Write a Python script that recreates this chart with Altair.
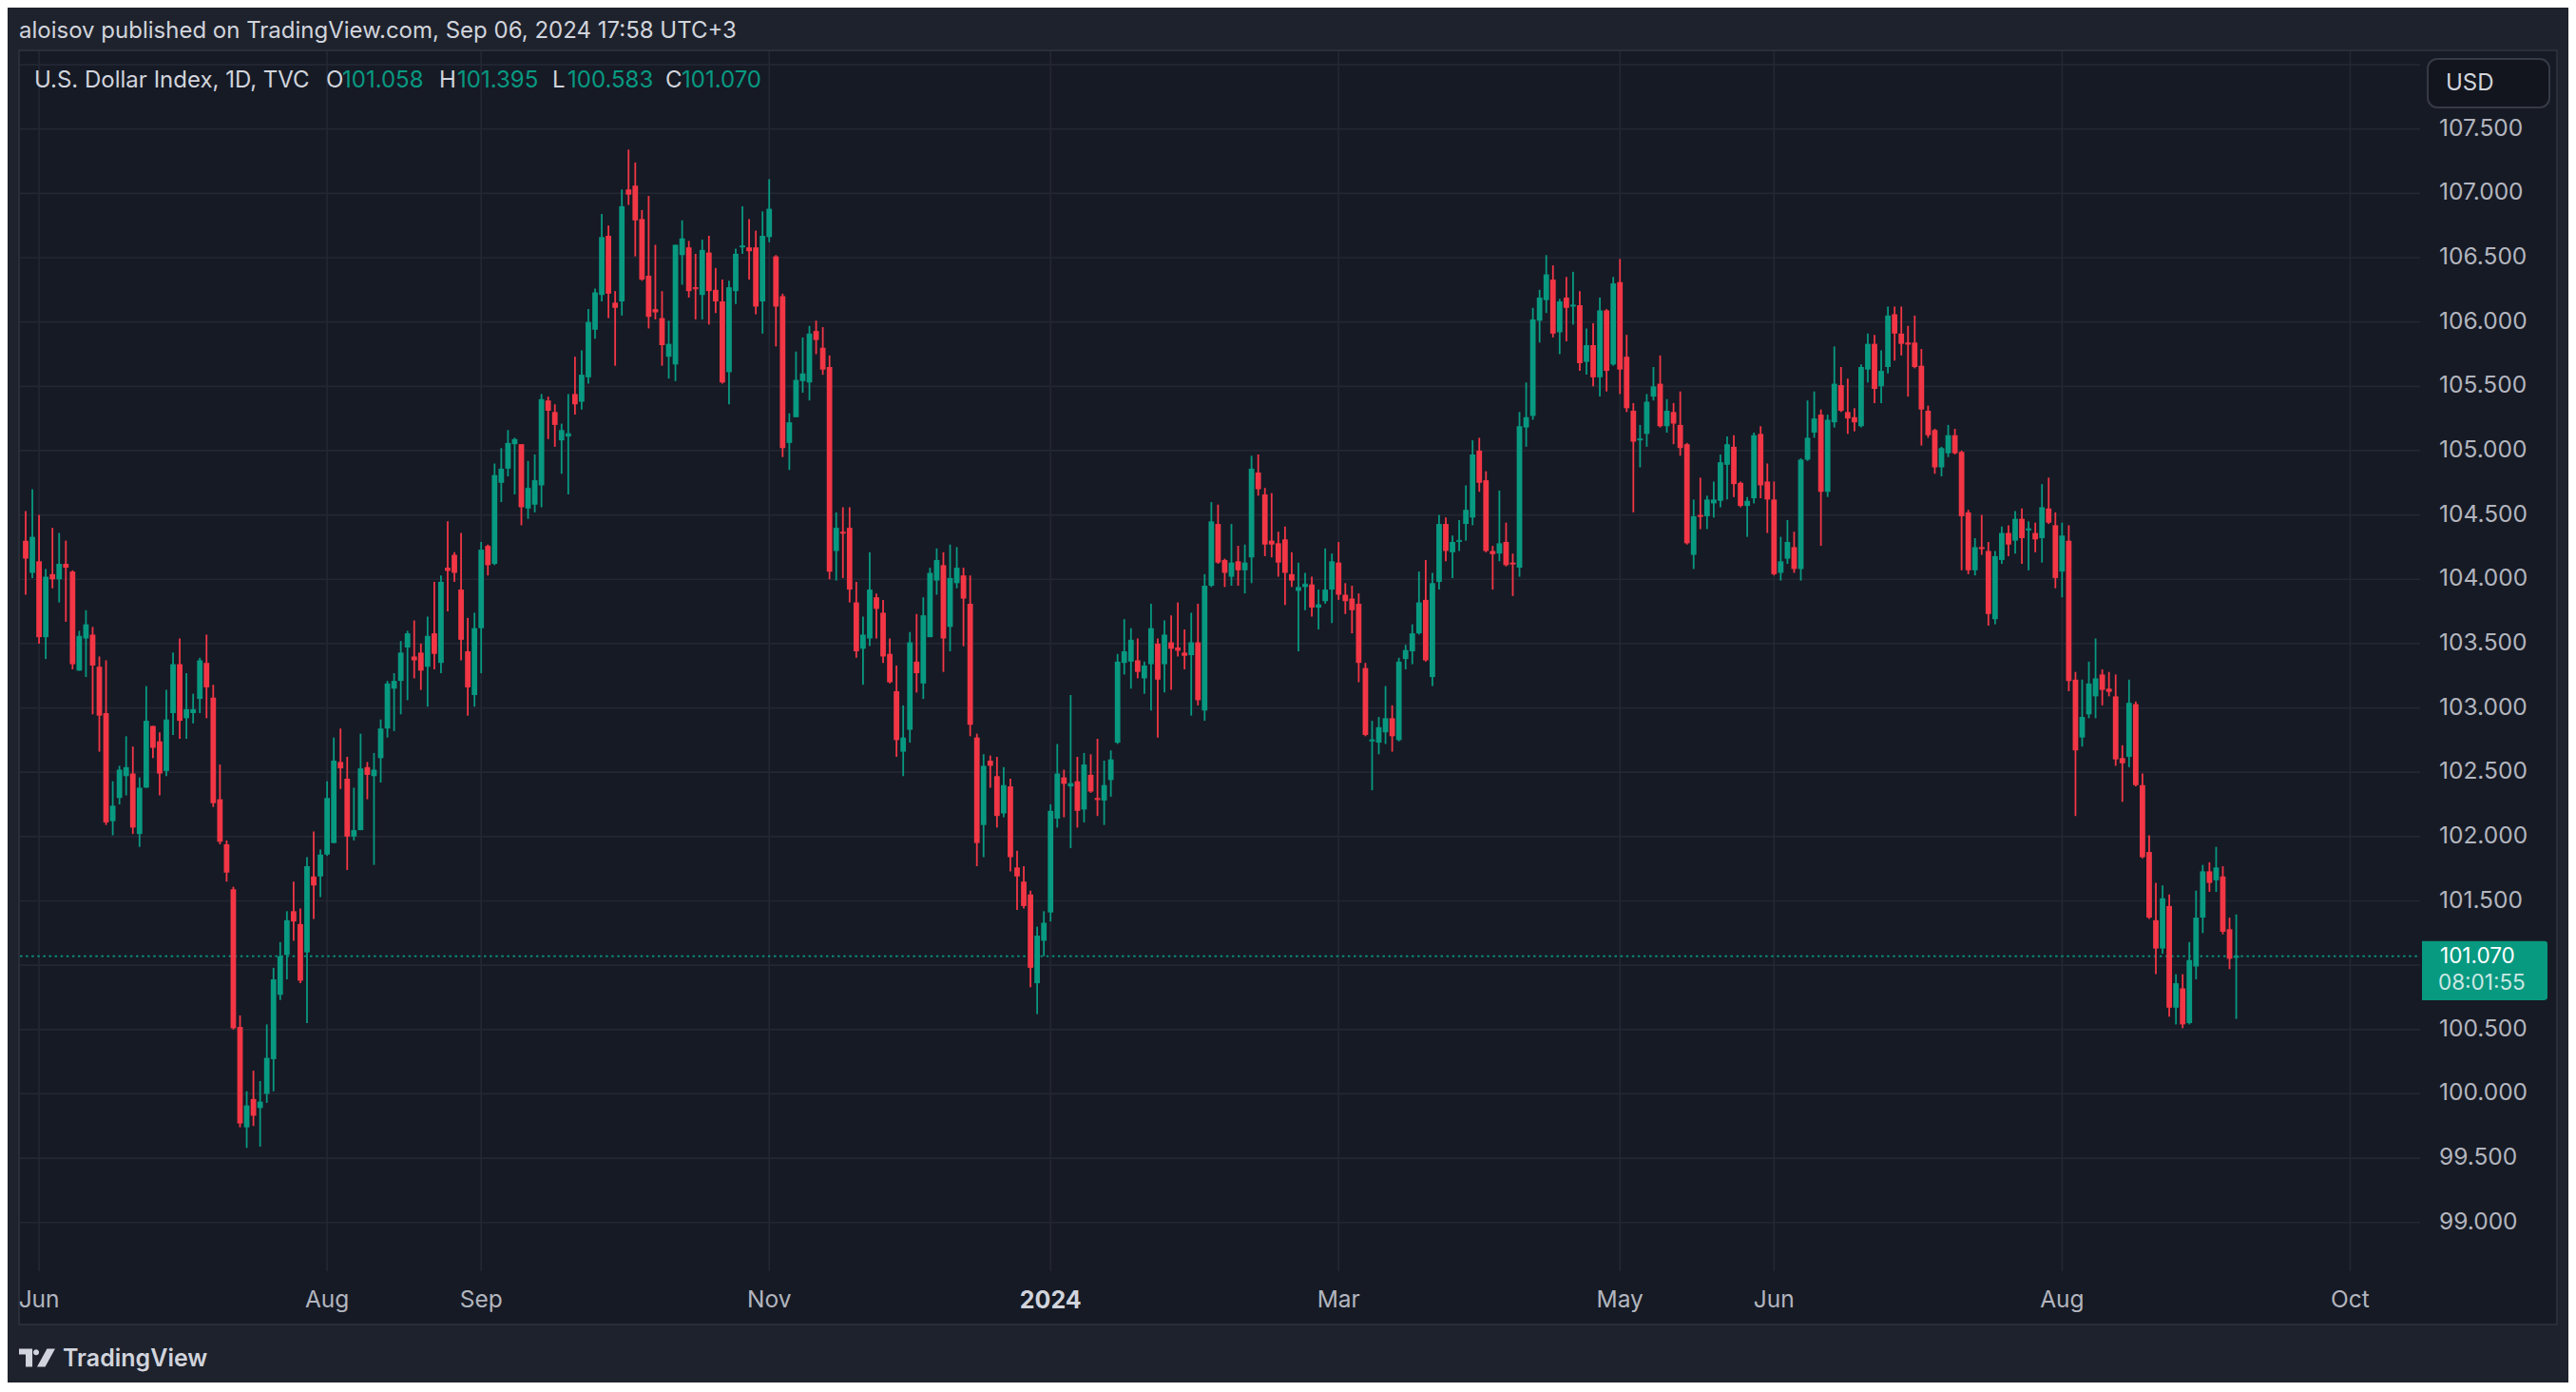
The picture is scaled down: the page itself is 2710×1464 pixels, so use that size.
import altair as alt
import pandas as pd
import numpy as np

# ---------------- data ----------------
opens = [
    104.30, 104.05, 104.14, 103.55, 104.04, 104.00, 104.12, 104.06, 103.29, 103.54,
    103.57, 103.32, 102.96, 102.12, 102.30, 102.47, 102.49, 102.02, 102.38, 102.86,
    102.74, 102.51, 102.96, 103.34, 102.92, 102.96, 103.07, 103.35, 103.08, 102.29,
    101.94, 101.59, 100.52, 99.74, 99.96, 99.89, 100.00, 100.27, 100.77, 101.08,
    101.42, 101.32, 101.10, 101.69, 101.69, 101.86, 101.95, 102.58, 102.45, 102.00,
    102.05, 102.54, 102.47, 102.61, 102.84, 103.15, 103.21, 103.47, 103.40, 103.43,
    103.32, 103.58, 103.35, 104.09, 104.19, 103.92, 103.44, 103.10, 103.62, 104.26,
    104.12, 104.75, 104.86, 105.05, 105.05, 104.55, 104.58, 104.73, 105.39, 105.30,
    105.08, 105.11, 105.44, 105.38, 105.57, 105.94, 106.21, 106.67, 106.15, 106.16,
    107.03, 107.06, 106.80, 106.36, 106.10, 106.03, 105.73, 105.67, 106.52, 106.58,
    106.27, 106.21, 106.54, 106.25, 106.16, 105.61, 106.24, 106.58, 106.58, 106.58,
    106.16, 106.66, 106.51, 106.20, 105.06, 105.26, 105.54, 105.53, 105.93, 105.80,
    105.65, 104.22, 104.37, 104.40, 103.82, 103.46, 103.54, 103.86, 103.74, 103.42,
    103.13, 102.66, 102.83, 103.36, 103.19, 103.55, 103.99, 104.11, 103.63, 103.97,
    104.03, 103.81, 102.77, 102.09, 102.59, 102.47, 102.18, 102.39, 101.76, 101.65,
    101.55, 100.86, 101.19, 101.41, 102.14, 102.46, 102.39, 102.43, 102.21, 102.48,
    102.30, 102.28, 102.44, 102.73, 103.35, 103.36, 103.37, 103.23, 103.34, 103.50,
    103.34, 103.51, 103.47, 103.43, 103.41, 103.51, 102.98, 103.95, 104.43, 104.15,
    104.02, 104.14, 104.07, 104.17, 104.83, 104.66, 104.30, 104.28, 104.31, 104.04,
    103.91, 103.94, 103.96, 103.78, 103.83, 103.92, 104.13, 103.88, 103.85, 103.81,
    103.31, 102.74, 102.73, 102.81, 102.92, 102.75, 103.38, 103.44, 103.58, 103.84,
    103.24, 103.98, 104.43, 104.21, 104.29, 104.43, 104.48, 105.00, 104.77, 104.22,
    104.20, 104.29, 104.13, 104.09, 105.18, 105.27, 106.01, 106.17, 106.33, 105.92,
    106.19, 106.12, 106.13, 105.69, 105.82, 105.57, 106.09, 105.67, 106.31, 105.73,
    105.31, 105.08, 105.13, 105.42, 105.52, 105.19, 105.30, 105.20, 105.05, 104.19,
    104.50, 104.49, 104.59, 104.61, 104.89, 105.03, 104.75, 104.57, 104.63, 105.13,
    104.76, 104.62, 104.05, 104.16, 104.25, 104.08, 104.93, 105.14, 105.28, 104.68,
    105.22, 105.51, 105.30, 105.26, 105.19, 105.63, 105.83, 105.50, 105.65, 106.06,
    105.91, 105.84, 105.84, 105.66, 105.31, 105.16, 104.87, 104.98, 105.12, 104.99,
    104.52, 104.07, 104.25, 104.22, 103.69, 104.15, 104.36, 104.30, 104.47, 104.38,
    104.36, 104.32, 104.55, 104.42, 104.06, 104.30, 103.22, 102.77, 102.95, 103.09,
    103.26, 103.15, 103.09, 102.61, 102.62, 103.03, 102.40, 101.88, 101.35, 101.13,
    101.46, 100.67, 100.82, 100.55, 100.99, 101.37, 101.73, 101.66, 101.69, 101.28,
    101.058,
]
highs = [
    104.53, 104.70, 104.50, 104.08, 104.40, 104.36, 104.30, 104.07, 103.60, 103.76,
    103.63, 103.40, 103.37, 102.43, 102.55, 102.78, 102.70, 102.46, 103.17, 102.86,
    102.81, 103.14, 103.43, 103.54, 103.27, 103.11, 103.39, 103.57, 103.18, 102.56,
    101.97, 101.61, 100.61, 100.02, 100.18, 100.10, 100.54, 100.98, 101.18, 101.42,
    101.65, 101.44, 101.84, 102.04, 101.90, 102.43, 102.77, 102.84, 102.62, 102.38,
    102.80, 102.58, 102.65, 102.91, 103.21, 103.27, 103.52, 103.60, 103.68, 103.50,
    103.71, 103.98, 104.03, 104.45, 104.21, 104.36, 103.70, 103.74, 104.29, 104.27,
    104.90, 105.02, 105.16, 105.10, 105.05, 104.92, 104.97, 105.44, 105.42, 105.36,
    105.21, 105.44, 105.73, 105.78, 106.10, 106.26, 106.84, 106.75, 106.24, 107.03,
    107.34, 107.24, 106.87, 106.98, 106.60, 106.24, 106.01, 106.60, 106.79, 106.63,
    106.53, 106.64, 106.67, 106.42, 106.33, 106.32, 106.57, 106.90, 106.80, 106.71,
    106.86, 107.11, 106.52, 106.22, 105.29, 105.77, 105.88, 105.97, 106.01, 105.96,
    105.74, 104.52, 104.56, 104.56, 103.98, 103.71, 104.21, 103.89, 103.84, 103.54,
    103.33, 103.02, 103.59, 103.73, 103.86, 104.09, 104.24, 104.21, 104.27, 104.25,
    104.09, 104.03, 102.80, 102.64, 102.63, 102.62, 102.54, 102.45, 101.89, 101.77,
    101.58, 101.30, 101.42, 102.25, 102.72, 102.52, 103.10, 102.62, 102.65, 102.64,
    102.76, 102.59, 102.67, 103.42, 103.69, 103.62, 103.54, 103.36, 103.81, 103.54,
    103.68, 103.72, 103.82, 103.61, 103.74, 103.81, 104.04, 104.60, 104.58, 104.16,
    104.43, 104.26, 104.27, 104.96, 104.97, 104.71, 104.67, 104.37, 104.41, 104.21,
    104.13, 104.05, 104.02, 103.92, 104.24, 104.20, 104.29, 103.97, 103.95, 103.89,
    103.35, 102.90, 102.93, 103.17, 103.02, 103.39, 103.49, 103.65, 104.06, 104.15,
    104.05, 104.50, 104.48, 104.34, 104.46, 104.73, 105.08, 105.10, 104.84, 104.26,
    104.69, 104.44, 104.20, 105.30, 105.53, 106.11, 106.25, 106.52, 106.44, 106.18,
    106.35, 106.39, 106.24, 105.95, 105.99, 106.19, 106.10, 106.35, 106.49, 105.90,
    105.37, 105.20, 105.44, 105.65, 105.74, 105.40, 105.37, 105.46, 105.06, 104.62,
    104.79, 104.65, 104.76, 104.97, 105.11, 105.12, 104.76, 104.64, 105.14, 105.19,
    104.90, 104.76, 104.33, 104.46, 104.37, 104.94, 105.39, 105.46, 105.32, 105.28,
    105.81, 105.65, 105.56, 105.33, 105.67, 105.91, 105.90, 105.78, 106.12, 106.12,
    106.12, 105.97, 106.05, 105.79, 105.35, 105.17, 105.03, 105.20, 105.17, 105.00,
    104.54, 104.32, 104.50, 104.29, 104.22, 104.41, 104.42, 104.53, 104.55, 104.45,
    104.44, 104.74, 104.79, 104.52, 104.44, 104.42, 103.28, 103.22, 103.36, 103.54,
    103.30, 103.28, 103.26, 102.71, 103.22, 103.05, 102.49, 102.01, 101.64, 101.62,
    101.55, 100.93, 100.93, 101.18, 101.58, 101.78, 101.80, 101.92, 101.77, 101.37,
    101.395,
]
lows = [
    103.88, 104.01, 103.50, 103.38, 103.93, 103.82, 103.67, 103.30, 103.29, 103.24,
    102.95, 102.66, 102.09, 102.01, 102.25, 102.32, 102.02, 101.92, 102.38, 102.61,
    102.32, 102.47, 102.79, 102.76, 102.76, 102.88, 102.96, 102.92, 102.23, 101.94,
    101.65, 100.50, 99.74, 99.58, 99.75, 99.59, 99.93, 100.02, 100.73, 100.89,
    101.19, 100.86, 100.55, 101.36, 101.53, 101.85, 101.95, 102.37, 101.74, 101.97,
    102.05, 102.29, 101.78, 102.42, 102.77, 102.82, 102.95, 103.06, 103.23, 103.14,
    103.01, 103.30, 103.27, 103.75, 103.98, 103.37, 102.94, 103.01, 103.27, 104.03,
    104.11, 104.60, 104.80, 104.66, 104.42, 104.47, 104.52, 104.56, 105.09, 105.03,
    104.82, 104.66, 105.28, 105.32, 105.52, 105.87, 106.16, 106.03, 105.66, 106.05,
    106.91, 106.51, 106.32, 105.95, 106.02, 105.66, 105.56, 105.54, 106.29, 106.19,
    106.02, 106.02, 105.98, 106.07, 105.52, 105.36, 106.14, 106.53, 106.33, 106.06,
    105.91, 106.62, 105.81, 104.95, 104.85, 105.26, 105.45, 105.39, 105.75, 105.59,
    104.00, 103.99, 104.01, 103.82, 103.39, 103.18, 103.48, 103.54, 103.35, 103.19,
    102.62, 102.47, 102.73, 103.12, 103.07, 103.55, 103.88, 103.28, 103.44, 103.93,
    103.48, 102.78, 101.77, 101.84, 102.38, 102.07, 102.15, 101.73, 101.43, 101.44,
    100.83, 100.62, 101.07, 101.34, 102.07, 102.15, 101.91, 102.07, 102.11, 102.34,
    102.16, 102.09, 102.31, 102.72, 103.26, 103.15, 103.23, 103.11, 102.98, 102.77,
    103.12, 103.14, 103.40, 103.30, 102.94, 103.02, 102.90, 103.94, 104.12, 103.94,
    103.95, 103.95, 103.89, 103.97, 104.65, 104.18, 104.17, 104.02, 103.80, 103.94,
    103.44, 103.76, 103.71, 103.61, 103.81, 103.66, 103.84, 103.73, 103.58, 103.20,
    102.78, 102.36, 102.64, 102.72, 102.66, 102.74, 103.30, 103.34, 103.57, 103.36,
    103.17, 103.92, 104.14, 104.01, 104.22, 104.30, 104.42, 104.68, 104.21, 103.92,
    104.14, 104.10, 103.87, 104.02, 105.03, 105.24, 105.84, 106.07, 105.88, 105.75,
    105.85, 105.98, 105.62, 105.59, 105.50, 105.42, 105.46, 105.66, 105.44, 105.30,
    104.52, 104.87, 105.03, 105.39, 105.18, 105.14, 105.05, 104.96, 104.27, 104.08,
    104.39, 104.39, 104.48, 104.56, 104.62, 104.64, 104.56, 104.33, 104.59, 104.63,
    104.36, 104.03, 103.99, 104.12, 104.05, 103.99, 104.92, 105.10, 104.26, 104.64,
    105.18, 105.30, 105.13, 105.15, 105.18, 105.53, 105.37, 105.37, 105.60, 105.70,
    105.74, 105.42, 105.64, 105.04, 105.10, 104.82, 104.80, 104.95, 104.97, 104.07,
    104.04, 104.03, 104.19, 103.64, 103.65, 104.12, 104.18, 104.20, 104.12, 104.07,
    104.21, 104.13, 104.43, 103.93, 103.86, 103.13, 102.16, 102.70, 102.92, 102.92,
    103.02, 103.09, 102.55, 102.27, 102.54, 102.39, 101.83, 101.36, 100.93, 101.09,
    100.60, 100.54, 100.51, 100.54, 100.89, 101.25, 101.57, 101.57, 101.24, 100.97,
    100.583,
]
closes = [
    104.16, 104.33, 103.55, 104.02, 104.00, 104.12, 104.09, 103.34, 103.56, 103.65,
    103.33, 102.94, 102.11, 102.24, 102.52, 102.54, 102.07, 102.38, 102.90, 102.69,
    102.49, 102.91, 103.34, 102.90, 102.99, 102.99, 103.37, 103.16, 102.26, 101.96,
    101.72, 100.51, 99.77, 99.91, 99.83, 99.94, 100.28, 100.89, 101.07, 101.35,
    101.34, 100.88, 101.77, 101.62, 101.86, 102.30, 102.59, 102.53, 102.00, 102.05,
    102.53, 102.48, 102.52, 102.84, 103.19, 103.21, 103.43, 103.58, 103.37, 103.29,
    103.56, 103.42, 103.98, 104.07, 104.05, 103.53, 103.16, 103.62, 104.23, 104.11,
    104.81, 104.86, 105.06, 105.09, 104.56, 104.71, 104.77, 105.40, 105.31, 105.20,
    105.16, 105.13, 105.36, 105.59, 106.00, 106.23, 106.66, 106.22, 106.11, 106.90,
    106.99, 106.79, 106.33, 106.04, 106.08, 105.82, 105.83, 106.60, 106.65, 106.24,
    106.26, 106.56, 106.24, 106.16, 105.53, 106.27, 106.53, 106.59, 106.55, 106.12,
    106.67, 106.88, 106.12, 105.02, 105.22, 105.55, 105.60, 105.91, 105.86, 105.63,
    104.06, 104.40, 104.36, 103.92, 103.44, 103.57, 103.92, 103.77, 103.40, 103.20,
    102.75, 102.77, 103.51, 103.27, 103.72, 104.05, 104.15, 103.54, 104.01, 104.09,
    103.85, 102.87, 101.95, 102.55, 102.55, 102.16, 102.40, 101.84, 101.69, 101.46,
    100.98, 101.23, 101.33, 102.20, 102.49, 102.41, 102.41, 102.20, 102.56, 102.35,
    102.29, 102.40, 102.60, 103.36, 103.44, 103.53, 103.28, 103.33, 103.62, 103.22,
    103.57, 103.46, 103.45, 103.41, 103.51, 103.06, 103.95, 104.45, 104.13, 104.05,
    104.13, 104.07, 104.13, 104.86, 104.70, 104.27, 104.27, 104.13, 104.05, 103.99,
    103.94, 103.96, 103.78, 103.80, 103.92, 104.14, 103.88, 103.83, 103.76, 103.35,
    102.79, 102.75, 102.85, 102.92, 102.78, 103.36, 103.45, 103.58, 103.82, 103.37,
    103.97, 104.43, 104.22, 104.29, 104.30, 104.54, 104.97, 104.75, 104.22, 104.20,
    104.28, 104.11, 104.12, 105.19, 105.26, 106.02, 106.19, 106.37, 105.91, 106.16,
    106.11, 106.13, 105.68, 105.82, 105.57, 106.09, 105.62, 106.30, 105.63, 105.33,
    105.07, 105.09, 105.38, 105.50, 105.19, 105.31, 105.21, 105.02, 104.28, 104.49,
    104.49, 104.62, 104.62, 104.91, 105.05, 104.74, 104.57, 104.61, 105.12, 104.73,
    104.62, 104.04, 104.14, 104.29, 104.08, 104.93, 105.10, 105.25, 104.68, 105.24,
    105.52, 105.31, 105.25, 105.22, 105.65, 105.83, 105.48, 105.62, 106.05, 105.91,
    105.83, 105.83, 105.65, 105.32, 105.12, 104.87, 105.02, 105.12, 104.98, 104.49,
    104.07, 104.25, 104.24, 103.73, 104.18, 104.36, 104.27, 104.47, 104.32, 104.39,
    104.31, 104.56, 104.44, 104.01, 104.34, 103.21, 102.67, 102.93, 103.19, 103.23,
    103.14, 103.13, 102.60, 102.57, 103.04, 102.40, 101.84, 101.37, 101.13, 101.52,
    100.67, 100.86, 100.54, 101.04, 101.37, 101.73, 101.64, 101.76, 101.26, 101.05,
    101.070,
]

# trading days (TVC DXY: weekdays, closed Dec 25, Jan 1, Good Friday)
holidays = ["2023-12-25", "2024-01-01", "2024-03-29"]
dates = pd.bdate_range("2023-05-30", "2024-09-06", freq="C", holidays=holidays)

# time-axis labels and the bar index where each labelled month starts
time_labels = ["Jun", "Aug", "Sep", "Nov", "2024", "Mar", "May", "Jun", "Aug", "Oct"]
time_bars = [2, 45, 68, 111, 153, 196, 238, 261, 304, 347]

price_ticks = [99.0, 99.5, 100.0, 100.5, 101.0, 101.5, 102.0, 102.5, 103.0,
               103.5, 104.0, 104.5, 105.0, 105.5, 106.0, 106.5, 107.0, 107.5]
grid_prices = price_ticks + [108.0]

header_text = "aloisov published on TradingView.com, Sep 06, 2024 17:58 UTC+3"
symbol_text = "U.S. Dollar Index, 1D, TVC"
countdown = "08:01:55"

# ---------------- styling ----------------
FONT = "Inter"
OUTER = "#1e222d"
PANE = "#161a25"
BORDER = "#2a2e39"
GRID = "#232733"
GREEN = "#089981"
RED = "#f23645"
TXT = "#d1d4dc"
AXT = "#b2b5be"

W, H = 2694, 1446
BAR_STEP = 7.076
X0 = 14.0

n = min(len(opens), len(highs), len(lows), len(closes), len(dates))
df = pd.DataFrame({
    "i": np.arange(n),
    "date": dates[:n],
    "o": opens[:n], "h": highs[:n], "l": lows[:n], "c": closes[:n],
})
df["h"] = df[["h", "o", "c"]].max(axis=1)
df["l"] = df[["l", "o", "c"]].min(axis=1)
df["dir"] = np.where(df["c"] >= df["o"], "up", "down")

last = df.tail(1).copy()
last["lab"] = last["c"].map(lambda v: f"{v:.3f}")
last["cd"] = countdown
o_, h_, l_, c_ = opens[n - 1], highs[n - 1], lows[n - 1], closes[n - 1]

xs = alt.Scale(domain=[0, 347], range=[X0, X0 + 347 * BAR_STEP], nice=False, zero=False)
ys = alt.Scale(domain=[99.0, 107.5], range=[1277.75, 127.7], nice=False, zero=False)
col = alt.Color("dir:N", scale=alt.Scale(domain=["up", "down"], range=[GREEN, RED]), legend=None)

one = pd.DataFrame({"k": [0]})


def txt(s, x, y, size=23, color=TXT, weight="normal", align="left", opacity=1.0):
    return alt.Chart(pd.DataFrame({"t": [s]})).mark_text(
        align=align, baseline="middle", font=FONT, fontSize=size,
        fontWeight=weight, color=color, opacity=opacity,
    ).encode(x=alt.value(x), y=alt.value(y), text="t:N")


pane = alt.Chart(one).mark_rect(fill=PANE, stroke=BORDER, strokeWidth=2).encode(
    x=alt.value(12), x2=alt.value(2682), y=alt.value(45), y2=alt.value(1385))

hgrid = alt.Chart(pd.DataFrame({"p": grid_prices})).mark_rule(
    color=GRID, strokeWidth=1.7).encode(
    y=alt.Y("p:Q", scale=ys, axis=None), x=alt.value(13), x2=alt.value(2538))

vgrid = alt.Chart(pd.DataFrame({"i": time_bars})).mark_rule(
    color=GRID, strokeWidth=1.7).encode(
    x=alt.X("i:Q", scale=xs, axis=None), y=alt.value(46), y2=alt.value(1329))

dotted = alt.Chart(last).mark_rule(
    color=GREEN, strokeWidth=1.8, strokeDash=[2.5, 3.6]).encode(
    y=alt.Y("c:Q", scale=ys, axis=None), x=alt.value(13), x2=alt.value(2538))

wicks = alt.Chart(df).mark_rule(strokeWidth=1.8).encode(
    x=alt.X("i:Q", scale=xs, axis=None),
    y=alt.Y("l:Q", scale=ys, axis=None), y2="h:Q", color=col)

bodies = alt.Chart(df).mark_bar(width=5.8).encode(
    x=alt.X("i:Q", scale=xs, axis=None),
    y=alt.Y("o:Q", scale=ys, axis=None), y2="c:Q", color=col)

doji = alt.Chart(df).transform_filter("abs(datum.o - datum.c) < 0.025").mark_tick(
    orient="horizontal", size=5.8, thickness=1.8).encode(
    x=alt.X("i:Q", scale=xs, axis=None),
    y=alt.Y("c:Q", scale=ys, axis=None), color=col)

# price labels hidden behind the last-price box are not drawn (as in TradingView)
plabels = alt.Chart(pd.DataFrame({
    "p": price_ticks, "lab": [f"{p:.3f}" for p in price_ticks]})).transform_filter(
    f"datum.p < {c_ - 0.36:.3f} || datum.p > {c_ + 0.14:.3f}").mark_text(
    align="left", baseline="middle", font=FONT, fontSize=24.5, color=AXT).encode(
    y=alt.Y("p:Q", scale=ys, axis=None), x=alt.value(2558), text="lab:N")

tdf = pd.DataFrame({"i": time_bars, "lab": time_labels})
tlabels = alt.Chart(tdf).transform_filter("length(datum.lab) != 4").mark_text(
    align="center", baseline="middle", font=FONT, fontSize=24.5, color=AXT).encode(
    x=alt.X("i:Q", scale=xs, axis=None), y=alt.value(1360), text="lab:N")
ylabels = alt.Chart(tdf).transform_filter("length(datum.lab) == 4").mark_text(
    align="center", baseline="middle", font=FONT, fontSize=25, fontWeight="bold",
    color=TXT).encode(
    x=alt.X("i:Q", scale=xs, axis=None), y=alt.value(1360), text="lab:N")

BOX_PATH = ("M-1,-0.24 L0.95,-0.24 Q1,-0.24 1,-0.19 L1,0.65 Q1,0.70 0.95,0.70 "
            "L-1,0.70 Z")
pbox = alt.Chart(last).mark_point(
    shape=BOX_PATH, size=132 * 132, filled=True, color=GREEN, opacity=1,
    strokeWidth=0).encode(
    y=alt.Y("c:Q", scale=ys, axis=None), x=alt.value(2606))
ptext = alt.Chart(last).mark_text(
    align="left", baseline="middle", font=FONT, fontSize=22.5, color="#ffffff").encode(
    y=alt.Y("c:Q", scale=ys, axis=None), x=alt.value(2559), text="lab:N")
ctext = alt.Chart(last).mark_text(
    align="left", baseline="middle", font=FONT, fontSize=22.5, color="#ffffff",
    opacity=0.78, dy=28.5).encode(
    y=alt.Y("c:Q", scale=ys, axis=None), x=alt.value(2557), text="cd:N")

usd_box = alt.Chart(one).mark_rect(
    fill="#12151e", stroke="#363a45", strokeWidth=2, cornerRadius=10).encode(
    x=alt.value(2546), x2=alt.value(2674), y=alt.value(54), y2=alt.value(105))
usd_txt = txt("USD", 2565, 80, size=24)

vcol = GREEN if c_ >= o_ else RED
LS = 24
legend_layers = [
    txt(symbol_text, 28, 77, size=LS),
    txt("O", 335, 77, size=LS), txt(f"{o_:.3f}", 352, 77, size=LS, color=vcol),
    txt("H", 454, 77, size=LS), txt(f"{h_:.3f}", 473, 77, size=LS, color=vcol),
    txt("L", 573, 77, size=LS), txt(f"{l_:.3f}", 589, 77, size=LS, color=vcol),
    txt("C", 692, 77, size=LS), txt(f"{c_:.3f}", 709, 77, size=LS, color=vcol),
]

LOGO_PATH = ("M-1,-0.5 L-0.26,-0.5 L-0.26,0.5 L-0.63,0.5 L-0.63,-0.18 L-1,-0.18 Z "
             "M-0.21,-0.3 A0.16,0.16 0 1,0 0.11,-0.3 A0.16,0.16 0 1,0 -0.21,-0.3 Z "
             "M0.55,-0.5 L1,-0.5 L0.45,0.5 L0,0.5 Z")
logo = alt.Chart(one).mark_point(
    shape=LOGO_PATH, size=38 * 38, filled=True, color=TXT, opacity=1,
    strokeWidth=0).encode(x=alt.value(31), y=alt.value(1420))
logo_txt = txt("TradingView", 58, 1421, size=25, weight=600)

header = txt(header_text, 12, 25, size=24)

chart = alt.layer(
    pane, hgrid, vgrid, dotted, wicks, bodies, doji,
    plabels, tlabels, ylabels, pbox, ptext, ctext,
    usd_box, usd_txt, *legend_layers, logo, logo_txt, header,
).properties(
    width=W, height=H, padding=0,
    autosize=alt.AutoSizeParams(type="none"),
    background=OUTER,
).configure_view(strokeWidth=0)

chart.save("out.html", embed_options={"renderer": "svg", "actions": False})
